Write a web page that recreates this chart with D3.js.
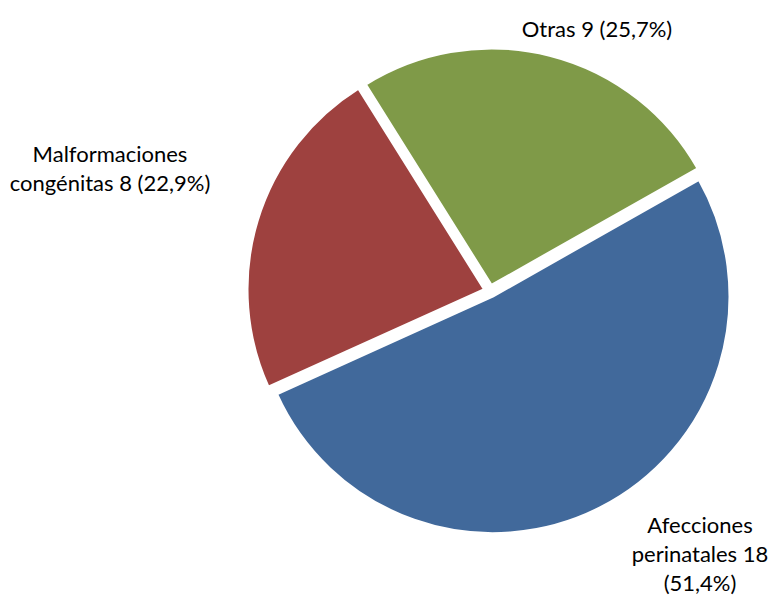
<!DOCTYPE html>
<html>
<head>
<meta charset="utf-8">
<script src="https://cdn.jsdelivr.net/npm/d3@7"></script>
<style>
  body { margin: 0; background: #fff; }
  svg text { font-family: Lato, "Open Sans", sans-serif; fill: #000; }
</style>
</head>
<body>
<div id="chart"></div>
<script>
// data
const categories = ["Afecciones perinatales", "Malformaciones congénitas", "Otras"];
const values = [18, 8, 9];
const colors = ["#41699b", "#9e413f", "#7f9a48"];
// how excel wrapped each label
const labelLines = [
  ["Afecciones", "perinatales {v}", "({p})"],
  ["Malformaciones", "congénitas {v} ({p})"],
  ["Otras {v} ({p})"]
];

const width = 772, height = 597;
const cx = 490, cy = 291, radius = 237, explode = 6;
// label anchors (centre of the first baseline)
const labelPos = [[700, 533], [110, 162], [597, 37]];
const lineStep = 29;

const svg = d3.select("#chart").append("svg")
    .attr("width", width)
    .attr("height", height);

const total = d3.sum(values);
const fmtPct = v => d3.format(".1f")(v / total * 100).replace(".", ",") + "%";

const start = 60.5 * Math.PI / 180;
const pie = d3.pie().sort(null).startAngle(start).endAngle(start + 2 * Math.PI);
const arcs = pie(values);
const arc = d3.arc().innerRadius(0).outerRadius(radius);

const g = svg.append("g").attr("transform", `translate(${cx},${cy})`);

g.selectAll("path")
  .data(arcs)
  .join("path")
    .attr("d", arc)
    .attr("fill", (d, i) => colors[i])
    .attr("stroke", "#fff")
    .attr("stroke-width", 2.5)
    .attr("stroke-linejoin", "round")
    .attr("transform", d => {
      const a = (d.startAngle + d.endAngle) / 2;
      return `translate(${Math.sin(a) * explode},${-Math.cos(a) * explode})`;
    });

// labels
arcs.forEach((d, i) => {
  const t = svg.append("text")
      .attr("text-anchor", "middle")
      .attr("font-size", 22);
  labelLines[i].forEach((ln, j) => {
    t.append("tspan")
      .attr("x", labelPos[i][0])
      .attr("y", labelPos[i][1] + j * lineStep)
      .text(ln.replace("{v}", values[i]).replace("{p}", fmtPct(values[i])));
  });
});
</script>
</body>
</html>
